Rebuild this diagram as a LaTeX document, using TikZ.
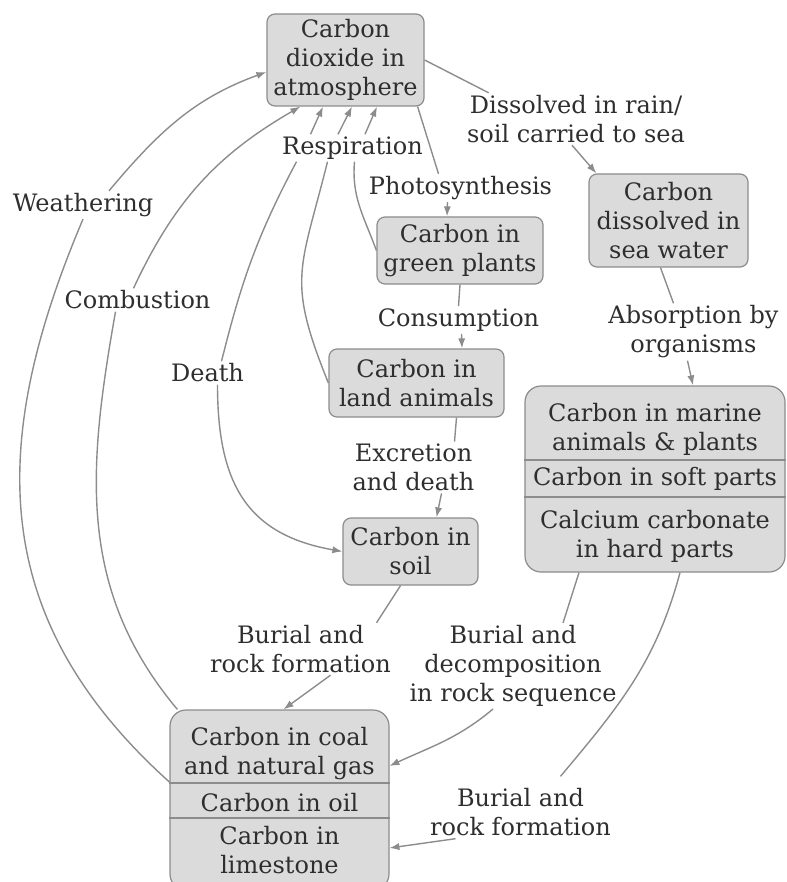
\documentclass[tikz,border=0pt]{standalone}
\usepackage{fontspec}
\setmainfont{DejaVu Serif}
\usepackage{xcolor}
\usepackage{tikz}
\usetikzlibrary{arrows.meta}
\definecolor{boxfill}{gray}{0.86}
\definecolor{boxline}{gray}{0.55}
\definecolor{flowline}{gray}{0.55}
\definecolor{inktext}{gray}{0.18}
\tikzstyle{node:box}=[draw=boxline,line width=0.6pt,fill=boxfill,rounded corners=4pt,inner sep=0pt,align=center,text=inktext,font=\fontsize{12}{14.5}\selectfont]
\tikzstyle{node:bigbox}=[draw=boxline,line width=0.6pt,fill=boxfill,rounded corners=8pt,inner sep=0pt]
\tikzstyle{node:part}=[inner sep=0pt,align=center,text=inktext,font=\fontsize{12}{14.5}\selectfont]
\tikzstyle{node:label}=[inner sep=1pt,align=center,text=inktext,font=\fontsize{12}{14.5}\selectfont]
\tikzstyle{draw:link}=[flowline,line width=0.7pt]
\tikzstyle{draw:flow}=[flowline,line width=0.7pt,-{Latex[length=5pt,width=3.6pt]}]
\tikzstyle{draw:divider}=[boxline,line width=0.6pt]

\begin{document}
\begin{tikzpicture}[x=0.5pt,y=-0.5pt]
        \useasboundingbox (0,0) rectangle (786,882);
        \clip (0,0) rectangle (786,882);

        % Boxes
        \node[node:box,minimum width=78.5pt,minimum height=46pt] (co2) at (345.5,60) {Carbon\\dioxide in\\atmosphere};
        \node[node:box,minimum width=83pt,minimum height=33.5pt] (plants) at (460,250.5) {Carbon in\\green plants};
        \node[node:box,minimum width=79.5pt,minimum height=46.5pt] (sea) at (668.5,220.5) {Carbon\\dissolved in\\sea water};
        \node[node:box,minimum width=87.5pt,minimum height=34pt] (animals) at (416.5,383) {Carbon in\\land animals};
        \node[node:box,minimum width=67.5pt,minimum height=33.5pt] (soil) at (410.5,551.5) {Carbon in\\soil};

        % Marine box (3 parts)
        \node[node:bigbox,minimum width=130pt,minimum height=93pt] (marine) at (655,479) {};
        \draw[draw:divider] (marine.west |- 0,460) -- (marine.east |- 0,460);
        \draw[draw:divider] (marine.west |- 0,497) -- (marine.east |- 0,497);
        \node[node:part] (marine-top) at (655,429) {Carbon in marine\\animals \& plants};
        \node[node:part] (marine-soft) at (655,479) {Carbon in soft parts};
        \node[node:part] (marine-hard) at (655,536) {Calcium carbonate\\in hard parts};

        % Rock box (3 parts)
        \node[node:bigbox,minimum width=109.5pt,minimum height=90pt] (rock) at (279.5,800) {};
        \draw[draw:divider] (rock.west |- 0,783) -- (rock.east |- 0,783);
        \draw[draw:divider] (rock.west |- 0,818) -- (rock.east |- 0,818);
        \node[node:part,minimum width=109.5pt] (coal) at (279.5,754) {Carbon in coal\\and natural gas};
        \node[node:part,minimum width=109.5pt] (oil) at (279.5,803) {Carbon in oil};
        \node[node:part,minimum width=109.5pt] (lime) at (279.5,850) {Carbon in\\limestone};

        % Labels
        \node[node:label] (dissolved) at (576,119) {Dissolved in rain/\\soil carried to sea};
        \node[node:label] (photo) at (460.5,188) {Photosynthesis};
        \node[node:label] (resp) at (352.5,148) {Respiration};
        \node[node:label] (consump) at (458.5,320) {Consumption};
        \node[node:label] (death) at (207.5,373) {Death};
        \node[node:label] (excr) at (413.5,467.5) {Excretion\\and death};
        \node[node:label] (absorb) at (693.5,332) {Absorption by\\organisms};
        \node[node:label] (weath) at (83,205) {Weathering};
        \node[node:label] (combust) at (137.5,300) {Combustion};
        \node[node:label] (burial1) at (300.5,649) {Burial and\\rock formation};
        \node[node:label] (burialdec) at (513,666) {Burial and\\decomposition\\in rock sequence};
        \node[node:label] (burial2) at (520.5,812.5) {Burial and\\rock formation};

        % atmosphere to sea
        \draw[draw:link] (co2.east) -- ([xshift=12pt]dissolved.north west);
        \draw[draw:flow] ([xshift=-2pt]dissolved.south) -- ([xshift=4pt]sea.north west);

        % photosynthesis and food chain
        \draw[draw:link] ([xshift=-3.5pt]co2.south east) -- ([xshift=-11pt]photo.north);
        \draw[draw:flow] ([xshift=-6.5pt]photo.south) -- ([xshift=-6.5pt]plants.north);
        \draw[draw:link] (plants.south) -- (consump.north);
        \draw[draw:flow] ([xshift=1.5pt]consump.south) -- ([xshift=22.75pt]animals.north);
        \draw[draw:link] ([xshift=20pt]animals.south) -- ([xshift=20.5pt]excr.north);
        \draw[draw:flow] ([xshift=14pt]excr.south) -- ([xshift=13pt]soil.north);

        % sea to marine life
        \draw[draw:link] ([xshift=-4pt]sea.south) -- ([xshift=-10pt]absorb.north);
        \draw[draw:flow] ([xshift=-3pt]absorb.south) -- ([xshift=19pt]marine.north);

        % burial
        \draw[draw:link] ([xshift=-5pt]soil.south) -- ([xshift=38pt]burial1.north);
        \draw[draw:flow] ([xshift=15pt]burial1.south) -- ([xshift=2pt]rock.north);
        \draw[draw:link] ([xshift=-38pt]marine.south) -- ([xshift=25pt]burialdec.north);
        \draw[draw:flow] ([xshift=-10pt]burialdec.south) to[out=-140,in=25] ([yshift=-6pt]coal.east);
        \draw[draw:link] ([xshift=12.5pt]marine.south) to[out=-105,in=50] ([xshift=20pt,yshift=5pt]burial2.north);
        \draw[draw:flow] ([xshift=-32.5pt]burial2.south) -- ([yshift=1pt]lime.east);

        % weathering and combustion
        \draw[draw:link] (weath.south) to[out=-113,in=138,looseness=1.1] ([yshift=9pt]rock.west);
        \draw[draw:flow] ([xshift=13pt]weath.north) to[out=50,in=-160] ([yshift=-6pt]co2.west);
        \draw[draw:link] ([xshift=-11pt]combust.south) to[out=-100,in=130] ([xshift=4pt]rock.north west);
        \draw[draw:flow] ([xshift=-2pt]combust.north) to[out=65,in=-150] ([xshift=17pt]co2.south west);

        % respiration and death
        \draw[draw:link] ([xshift=-28pt]resp.south) to[out=-118,in=76] ([xshift=7pt]death.north);
        \draw[draw:flow] ([xshift=5pt]death.south) to[out=-90,in=170,looseness=1.2] (soil.west);
        \draw[draw:link] ([xshift=-12.5pt]resp.south) to[out=-104,in=112,looseness=1.3] (animals.west);
        \draw[draw:link] ([xshift=1pt]resp.south) to[out=-95,in=110] (plants.west);
        \foreach \i/\j in {-21/-11.25,-7.25/3.25,6.25/15.75} {
                \draw[draw:flow] ([xshift=\i pt]resp.north) -- ([xshift=\j pt]co2.south);
            }

    \end{tikzpicture}
\end{document}
